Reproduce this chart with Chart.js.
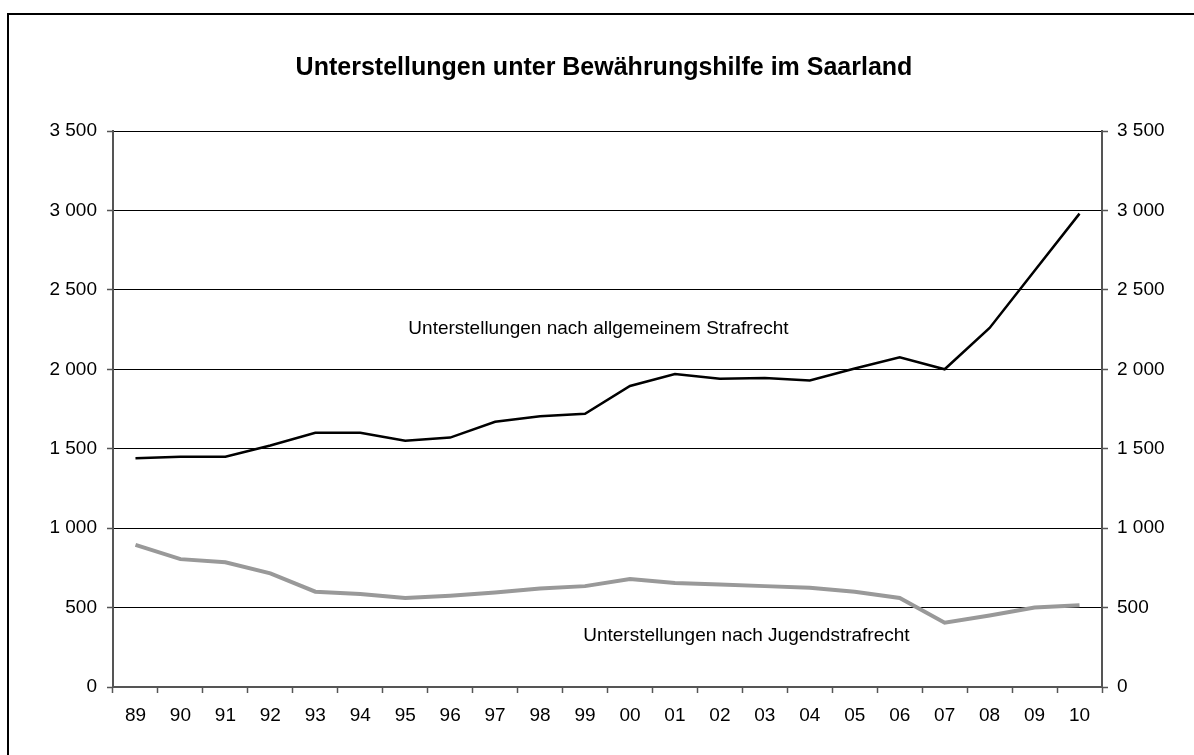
<!DOCTYPE html>
<html>
<head>
<meta charset="utf-8">
<script src="https://cdn.jsdelivr.net/npm/chart.js@4"></script>
<style>
  html, body { margin: 0; padding: 0; background: #fff; overflow: hidden; }
  canvas { display: block; }
</style>
</head>
<body>
<canvas id="chart" width="1194" height="755"></canvas>
<script>
/* ================== DATA ================== */
const years = ["89","90","91","92","93","94","95","96","97","98","99",
               "00","01","02","03","04","05","06","07","08","09","10"];

const allgemein = [1440, 1450, 1450, 1520, 1600, 1600, 1550, 1570, 1670, 1705, 1720,
                   1895, 1970, 1940, 1945, 1930, 2005, 2075, 2000, 2260, 2620, 2980];

const jugend = [895, 805, 785, 715, 600, 585, 560, 575, 595, 620, 635,
                680, 655, 645, 635, 625, 600, 560, 405, 450, 500, 515];

const titleText = "Unterstellungen unter Bewährungshilfe im Saarland";

// series labels placed inside the plot (category index, value at baseline)
const seriesLabels = [
  { text: "Unterstellungen nach allgemeinem Strafrecht", at: 6.07, value: 2222 },
  { text: "Unterstellungen nach Jugendstrafrecht", at: 9.96, value: 291 }
];

/* ================== HELPERS ================== */
const FONT = "'Liberation Sans', Arial, sans-serif";

function fmt(v) {
  return String(v).replace(/\B(?=(\d{3})+(?!\d))/g, " ");
}

/* ================== PLUGINS ================== */
// outer chart frame: only its top and left edges fall inside the picture
const frame = {
  id: "frame",
  beforeDraw(chart) {
    const ctx = chart.ctx;
    ctx.save();
    ctx.fillStyle = "#000";
    ctx.fillRect(7, 13, 2, chart.height - 13);
    ctx.fillRect(7, 13, chart.width - 7, 2);
    ctx.restore();
  }
};

const texts = {
  id: "texts",
  afterDraw(chart) {
    const ctx = chart.ctx;
    const xs = chart.scales.x, ys = chart.scales.y;
    ctx.save();
    ctx.fillStyle = "#000";
    ctx.textBaseline = "alphabetic";

    ctx.font = "bold 25px " + FONT;
    ctx.textAlign = "center";
    ctx.fillText(titleText, 604, 75);

    ctx.font = "19px " + FONT;
    ctx.textAlign = "left";
    seriesLabels.forEach(l => {
      ctx.fillText(l.text, xs.getPixelForValue(l.at), ys.getPixelForValue(l.value));
    });
    ctx.restore();
  }
};

/* ================== CHART ================== */
const tickFont = { family: FONT, size: 19 };

new Chart(document.getElementById("chart"), {
  type: "line",
  data: {
    labels: years,
    datasets: [
      {
        label: "allgemeines Strafrecht",
        data: allgemein,
        borderColor: "#000",
        borderWidth: 2.5,
        pointRadius: 0,
        tension: 0,
        yAxisID: "y"
      },
      {
        label: "Jugendstrafrecht",
        data: jugend,
        borderColor: "#999",
        borderWidth: 4,
        pointRadius: 0,
        tension: 0,
        yAxisID: "y"
      }
    ]
  },
  options: {
    responsive: false,
    animation: false,
    devicePixelRatio: 1,
    layout: { padding: { top: 131, left: 0, right: 0, bottom: 0 } },
    plugins: {
      legend: { display: false },
      tooltip: { enabled: false },
      title: { display: false }
    },
    scales: {
      x: {
        offset: true,
        afterFit(s) { s.height = 68; },
        grid: {
          offset: true,
          drawOnChartArea: false,
          drawTicks: true,
          tickLength: 6,
          tickColor: "#555",
          tickWidth: 1.5
        },
        border: { color: "#555", width: 2 },
        ticks: { color: "#000", font: tickFont, padding: 11, maxRotation: 0, autoSkip: false }
      },
      y: {
        position: "left",
        min: 0,
        max: 3500,
        afterFit(s) { s.width = 113; },
        grid: {
          color: "#000",
          lineWidth: 1,
          tickLength: 6,
          tickColor: "#555",
          tickWidth: 1.5
        },
        border: { color: "#555", width: 2 },
        ticks: { stepSize: 500, color: "#000", font: tickFont, padding: 10, callback: fmt }
      },
      y2: {
        position: "right",
        min: 0,
        max: 3500,
        afterFit(s) { s.width = 92; },
        grid: {
          drawOnChartArea: false,
          tickLength: 6,
          tickColor: "#555",
          tickWidth: 1.5
        },
        border: { color: "#555", width: 2 },
        ticks: { stepSize: 500, color: "#000", font: tickFont, padding: 9, callback: fmt }
      }
    }
  },
  plugins: [frame, texts]
});
</script>
</body>
</html>
